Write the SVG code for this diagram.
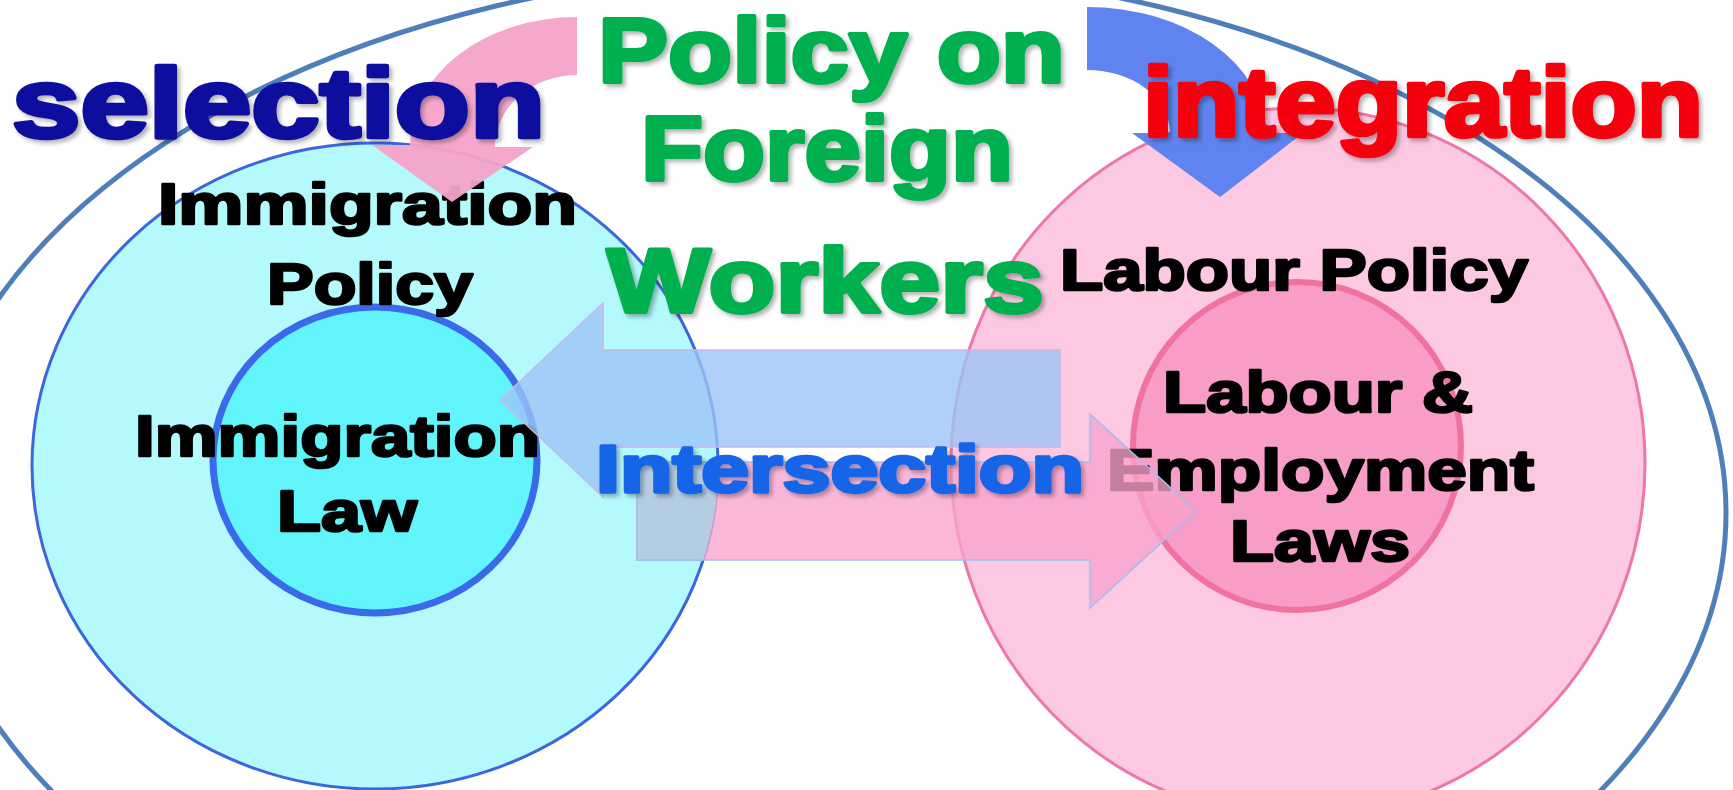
<svg xmlns="http://www.w3.org/2000/svg" width="1733" height="790" viewBox="0 0 1733 790">
<defs>
<filter id="sh" x="-5%" y="-10%" width="110%" height="130%">
<feDropShadow dx="3" dy="3" stdDeviation="2" flood-color="#000" flood-opacity="0.3"/>
</filter>
<clipPath id="cyanClip"><ellipse cx="375" cy="466" rx="343" ry="323"/></clipPath>
</defs>
<style>
.t{font-family:"Liberation Sans",Arial,sans-serif;font-weight:bold;stroke-linejoin:round;}
.blk{fill:#000;stroke:#000;stroke-width:2.6;font-size:58px;}
.big{font-size:98px;stroke-width:4.5;}
.grn{fill:#00b050;stroke:#00b050;stroke-width:4;font-size:91px;}
</style>
<rect width="1733" height="790" fill="#fff"/>
<g id="outer">
<ellipse cx="826" cy="513" rx="900" ry="545" fill="none" stroke="#4f7fba" stroke-width="5"/>
</g>
<g id="immigration-policy">
<ellipse cx="375" cy="466" rx="343" ry="323" fill="#b4f9fb" stroke="#3d66de" stroke-width="3"/>
</g>
<g id="immigration-law">
<ellipse cx="375" cy="460" rx="162" ry="153" fill="#62f4fb" stroke="#3a6aea" stroke-width="7"/>
</g>
<g id="labour-policy">
<ellipse cx="1298" cy="463" rx="347" ry="355" fill="#fcc8e2" stroke="#ee77a6" stroke-width="3"/>
</g>
<g id="labour-laws">
<circle cx="1297" cy="446" r="164" fill="#f89cc8" stroke="#f0739f" stroke-width="6"/>
</g>
<g id="labels-black">
<text class="t blk" x="158" y="224" textLength="419" lengthAdjust="spacingAndGlyphs">Immigration</text>
<text class="t blk" x="267" y="304" textLength="206" lengthAdjust="spacingAndGlyphs">Policy</text>
<text class="t blk" x="135" y="456" textLength="405" lengthAdjust="spacingAndGlyphs">Immigration</text>
<text class="t blk" x="277" y="531" textLength="140" lengthAdjust="spacingAndGlyphs">Law</text>
<text class="t blk" x="1060" y="290" textLength="468" lengthAdjust="spacingAndGlyphs">Labour Policy</text>
<text class="t blk" x="1163" y="412" textLength="310" lengthAdjust="spacingAndGlyphs">Labour &amp;</text>
<text class="t blk" x="1107" y="490" textLength="427" lengthAdjust="spacingAndGlyphs">Employment</text>
<text class="t blk" x="1230" y="561" textLength="180" lengthAdjust="spacingAndGlyphs">Laws</text>
</g>
<g id="connectors">
<path d="M1060,350 L603,350 L603,303 L500,400 L603,497 L603,447 L1060,447 Z" fill="#9cc4f6" fill-opacity="0.8" stroke="#c8b8e6" stroke-width="1.5"/>
<path d="M637,462 L1090,462 L1090,414 L1196,511 L1090,608 L1090,560 L637,560 Z" fill="#f9a3cc" fill-opacity="0.78" stroke="#9fc0ee" stroke-width="1.5"/>
<g clip-path="url(#cyanClip)">
<path d="M637,462 L1090,462 L1090,560 L637,560 Z" fill="#b5cde2" stroke="#9fc0ee" stroke-width="1.5"/>
</g>
<path d="M577,17 A167,128 0 0 0 410,145 L372,145 L452,202 L533,147 L495,147 A82,72 0 0 1 577,75 Z" fill="#f6a2c9" fill-opacity="0.95"/>
<path d="M1087,7 A178,126 0 0 1 1265,133 L1303,133 L1220,197 L1132,133 L1170,133 A83,63 0 0 0 1087,70 Z" fill="#5f84f0"/>
</g>
<g id="titles" filter="url(#sh)">
<text class="t big" x="12" y="137" fill="#0e0e9e" stroke="#0e0e9e" textLength="533" lengthAdjust="spacingAndGlyphs">selection</text>
<text class="t big" x="1143" y="136" fill="#f50010" stroke="#f50010" textLength="560" lengthAdjust="spacingAndGlyphs">integration</text>
<text class="t grn" x="598" y="82" textLength="467" lengthAdjust="spacingAndGlyphs">Policy on</text>
<text class="t grn" x="641" y="180" textLength="372" lengthAdjust="spacingAndGlyphs">Foreign</text>
<text class="t grn" x="607" y="312" textLength="437" lengthAdjust="spacingAndGlyphs">Workers</text>
<text class="t" x="596" y="492" font-size="67" fill="#1565e8" stroke="#1565e8" stroke-width="3.5" textLength="488" lengthAdjust="spacingAndGlyphs">Intersection</text>
</g>
</svg>
